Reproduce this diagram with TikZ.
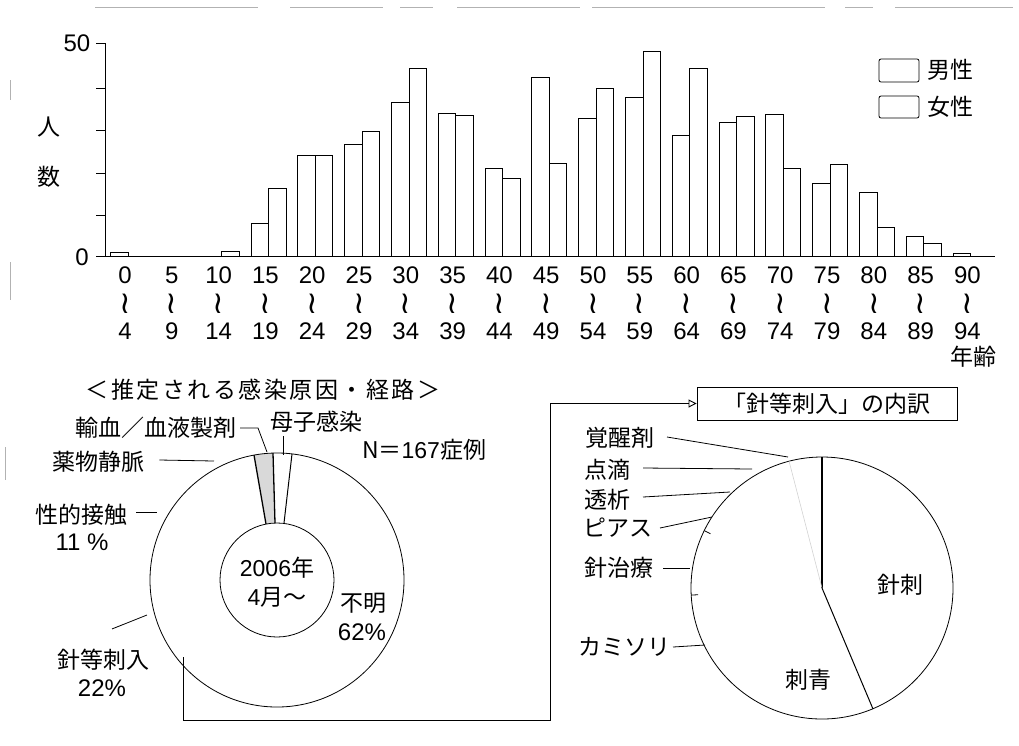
\documentclass[tikz,border=0pt]{standalone}
\usepackage{fontspec}
\setmainfont{Noto Sans CJK JP}
\newfontfamily\latf{Liberation Sans}
\newfontfamily\dejf{DejaVu Sans}
\newfontfamily\ttlf[LetterSpace=11]{Noto Sans CJK JP}
\usetikzlibrary{arrows.meta}
\begin{document}
\begin{tikzpicture}[x=1pt,y=-1pt,line width=0.8pt,
  every node/.style={font=\fontsize{23}{27}\selectfont, inner sep=0pt},
  num/.style={font=\latf\fontsize{24}{28}\selectfont},
  wave/.style={font=\dejf\fontsize{31}{31}\selectfont},
  bar/.style={draw, line width=0.7pt, fill=white},
  lead/.style={line width=0.8pt},
  sect/.style={line width=1.3pt},
  scan/.style={gray!60, line width=0.6pt}]
\useasboundingbox (0,0) rectangle (1019,745);

% scan edge marks
\draw[scan] (95,7) -- (258,7) (290,7) -- (383,7) (400,7) -- (433,7) (457,7) -- (580,7)
  (592,7) -- (825,7) (845,7) -- (873,7) (895,7) -- (1013,7);
\draw[scan] (10,80) -- (10,100) (10,262) -- (10,300) (5,447) -- (5,480);

% ---------- bar chart ----------
\foreach \i/\t in {0/252,3/223,4/155,5/144,6/102,7/113,8/168,9/77,10/118,11/97,12/135,13/122,14/114,15/183,16/192,17/236,18/253}
  \draw[bar] ({110.6+46.8*\i},256) rectangle ({128.1+46.8*\i},\t);
\foreach \i/\t in {2/251,3/188,4/155,5/131,6/68,7/115,8/178,9/163,10/88,11/51,12/68,13/116,14/168,15/164,16/227,17/243}
  \draw[bar] ({128.1+46.8*\i},256) rectangle ({145.6+46.8*\i},\t);

\draw (105,43) -- (105,256) -- (995,256);
\foreach \y in {43,88,130,173,215,256} \draw (96,\y) -- (105,\y);
\node[num] (y50) at (77,43) {50};
\node[num] (y0) at (82,257) {0};
\node (ylab1) at (49,127) {人};
\node (ylab2) at (49,177) {数};

\foreach \i in {0,...,18}{
  \pgfmathtruncatemacro\a{5*\i}
  \pgfmathtruncatemacro\b{5*\i+4}
  \pgfmathsetmacro\xx{125+46.8*\i}
  \node[num] (lo\i) at (\xx,275) {\a};
  \node[wave] (w\i) at (\xx,304) {≀};
  \node[num] (hi\i) at (\xx,331) {\b};
}
\node (agelab) at (973,357) {年齢};

% legend
\draw[rounded corners=2pt] (879,59) rectangle (919,82);
\node (lgm) at (950,70) {男性};
\draw[rounded corners=2pt] (879,96) rectangle (919,118);
\node (lgf) at (950,107) {女性};

% ---------- left pie ----------
\coordinate (c1) at (277,580);
\fill[gray!30] (254,455) -- (273,453) -- (275,523) -- (266,524) -- cycle;
\draw (c1) circle[radius=127];
\draw (c1) circle[radius=57];
\draw[sect] (254,455) -- (266,524);
\draw[sect] (273,453) -- (275,523);
\draw[line width=1pt] (292,454) -- (284,523);

\node[font=\ttlf\fontsize{23}{27}\selectfont] (title1) at (263,390) {＜推定される感染原因・経路＞};
\node[anchor=east] (yuketsu) at (237,428) {輸血／血液製剤};
\node (boshi) at (316,422) {母子感染};
\node (nn) at (424,450) {N＝{\latf 167}症例};
\node (yakubutsu) at (98,462) {薬物静脈};
\node (seiteki) at (81,515) {性的接触};
\node[num] (p11) at (82,542) {11 \%};
\node (y2006) at (277,568) {{\latf 2006}年};
\node (apr) at (277,597) {{\latf 4}月～};
\node (fumei) at (363,603) {不明};
\node[num] (p62) at (362,632) {62\%};
\node (harito) at (103,660) {針等刺入};
\node[num] (p22) at (102,688) {22\%};

\coordinate (e1) at (267,452);
\coordinate (e2) at (283,455);
\coordinate (e3) at (214,461);
\coordinate (e4) at (157,512);
\coordinate (e5) at (147,615);
\draw[lead] (yuketsu.east) ++(3,0) -- (258,428) -- (e1);
\draw[lead] (boshi.south -| e2) ++(0,3) -- (e2);
\draw[lead] (yakubutsu.east) ++(15,-2) -- (e3);
\draw[lead] (seiteki.east) ++(9,-3) -- (e4);
\draw[lead] (harito.north) ++(9,-20) -- (e5);

% connector
\coordinate (s) at (183,657);
\node[draw, line width=0.9pt, minimum width=260, minimum height=33, inner sep=0pt] (box) at (827,403.5) {「針等刺入」の内訳};
\draw[line width=0.9pt, -{Triangle[open,length=8pt,width=8pt]}] (s) -- (183,720) -- (550,720) -- (550,403.5) -- (box.west);

% ---------- right pie ----------
\coordinate (c2) at (822,588);
\draw (c2) circle[radius=131];
\draw[sect] (822,457) -- (c2);
\draw[line width=1pt] (c2) -- (873,709);
\draw[gray!35, line width=0.6pt] (c2) -- (789,461);
\draw (704.2,530.6) -- (710.5,533.7);
\draw (691.2,595.1) -- (698.2,594.7);

\node (kakusei) at (620,438) {覚醒剤};
\node (tenteki) at (607,470) {点滴};
\node (touseki) at (607,500) {透析};
\node (piasu) at (618,528) {ピアス};
\node (harichi) at (619,568) {針治療};
\node (kamisori) at (624,647) {カミソリ};
\node (harisashi) at (900,585) {針刺};
\node (irezumi) at (808,680) {刺青};

\coordinate (f1) at (788,457);
\coordinate (f2) at (752,469);
\coordinate (f3) at (730,492);
\coordinate (f4) at (712,517);
\coordinate (f5) at (690,568);
\coordinate (f6) at (705,645);
\draw[lead] (667,437) -- (f1);
\draw[lead] (643,468) -- (f2);
\draw[lead] (643,497) -- (f3);
\draw[lead] (660,528) -- (f4);
\draw[lead] (663,568) -- (f5);
\draw[lead] (673,647) -- (f6);
\end{tikzpicture}
\end{document}
